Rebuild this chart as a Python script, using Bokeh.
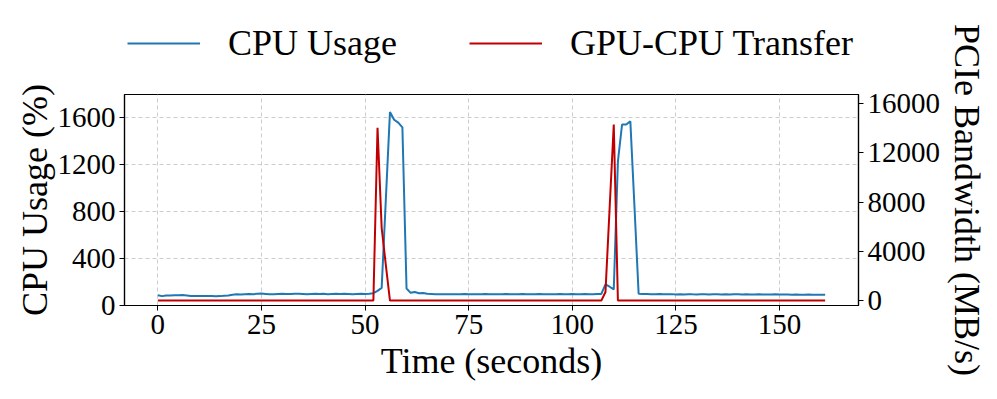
from bokeh.plotting import figure
from bokeh.layouts import column
from bokeh.models import Range1d, LinearAxis, FixedTicker, Legend, LegendItem, ColumnDataSource
from bokeh.embed import file_html
from bokeh.resources import INLINE

# ---- data ----
time_s = list(range(0, 162))
cpu_usage = [
    88, 80, 86, 86, 88, 87, 90, 86, 82, 80,
    80, 81, 82, 80, 78, 80, 84, 86, 92, 95,
    93, 96, 98, 97, 100, 102, 99, 95, 97, 99,
    100, 98, 99, 101, 100, 98, 96, 99, 101, 98,
    100, 97, 99, 101, 98, 100, 99, 97, 99, 100,
    99, 101, 105, 125, 150, 900, 1650, 1585, 1560, 1520,
    145, 108, 115, 105, 107, 100, 98, 96, 97, 95,
    96, 97, 95, 96, 98, 96, 95, 97, 96, 98,
    97, 95, 96, 97, 98, 96, 95, 97, 98, 96,
    97, 96, 98, 97, 95, 96, 97, 98, 97, 96,
    98, 97, 96, 98, 97, 96, 98, 99, 180, 160,
    137, 1230, 1544, 1544, 1572, 840, 100, 98, 99, 97,
    96, 98, 97, 95, 97, 93, 96, 94, 97, 95,
    94, 96, 95, 94, 96, 95, 93, 95, 94, 96,
    95, 94, 95, 93, 94, 95, 94, 93, 94, 95,
    93, 94, 93, 92, 93, 92, 92, 93, 92, 91,
    92, 91,
]
pcie_bw = [0.0] * 162
pcie_bw[53] = 14050
pcie_bw[54] = 5900
pcie_bw[55] = 2900
pcie_bw[108] = 700
pcie_bw[109] = 7500
pcie_bw[110] = 14300

series_labels = ["CPU Usage", "GPU-CPU Transfer"]
x_ticks = [0, 25, 50, 75, 100, 125, 150]
cpu_ticks = [0, 400, 800, 1200, 1600]
bw_ticks = [0, 4000, 8000, 12000, 16000]

FONT = "Liberation Serif"
BLUE = "#1f77b4"
RED = "#c00000"

src = ColumnDataSource(dict(t=time_s, cpu=cpu_usage, bw=pcie_bw))

# ---- main plot (full window) ----
p = figure(width=997, height=399, output_backend="svg", toolbar_location=None,
           x_range=Range1d(-8.05, 169.05), y_range=Range1d(0, 1800),
           min_border_left=124, min_border_right=139, min_border_top=94,
           min_border_bottom=94)
p.extra_y_ranges = {"bw": Range1d(-400, 16750)}

p.outline_line_color = "black"
p.outline_line_width = 1.2
p.background_fill_color = "white"
p.border_fill_alpha = 0

p.line("t", "cpu", source=src, line_color=BLUE, line_width=2)
p.line("t", "bw", source=src, line_color=RED, line_width=2, y_range_name="bw")

right_axis = LinearAxis(y_range_name="bw")
p.add_layout(right_axis, "right")

p.xaxis.ticker = FixedTicker(ticks=x_ticks)
p.yaxis[0].ticker = FixedTicker(ticks=cpu_ticks)
right_axis.ticker = FixedTicker(ticks=bw_ticks)

p.xaxis.axis_label = "Time (seconds)"
p.yaxis[0].axis_label = "CPU Usage (%)"
right_axis.axis_label = "PCIe Bandwidth (MB/s)"

for ax in [p.xaxis[0], p.yaxis[0], right_axis]:
    ax.axis_line_color = "black"
    ax.axis_line_width = 1.2
    ax.major_tick_line_color = "black"
    ax.major_tick_in = 0
    ax.major_tick_out = 5
    ax.minor_tick_line_color = None
    ax.major_label_text_font = FONT
    ax.major_label_text_font_size = "29px"
    ax.major_label_text_color = "black"
    ax.axis_label_text_font = FONT
    ax.axis_label_text_font_size = "36px"
    ax.axis_label_text_font_style = "normal"
    ax.axis_label_text_color = "black"
    ax.major_label_standoff = 4
    ax.axis_label_standoff = 4
p.yaxis[0].axis_label_standoff = 0

p.yaxis[0].major_label_orientation = "horizontal"
right_axis.major_label_orientation = "horizontal"

p.xgrid.grid_line_color = "#cccccc"
p.xgrid.grid_line_dash = "4 3"
p.ygrid.grid_line_color = "#cccccc"
p.ygrid.grid_line_dash = "4 3"
p.ygrid.ticker = FixedTicker(ticks=cpu_ticks)
p.xgrid.ticker = FixedTicker(ticks=x_ticks)

# ---- legend strip, laid under the top border of the main plot ----
lg = figure(width=997, height=94, output_backend="svg", toolbar_location=None,
            x_range=Range1d(0, 1), y_range=Range1d(100000, 100001),
            min_border_left=124, min_border_right=139, min_border_top=0,
            min_border_bottom=0, margin=(0, 0, -94, 0))
lg.axis.visible = False
lg.grid.visible = False
lg.outline_line_color = None
lg.border_fill_alpha = 0
lg.background_fill_alpha = 0
# series repeated far outside the strip's visible range: only their legend glyphs show
r1 = lg.line("t", "cpu", source=src, line_color=BLUE, line_width=2)
r2 = lg.line("t", "bw", source=src, line_color=RED, line_width=2)

legend = Legend(items=[LegendItem(label=series_labels[0], renderers=[r1]),
                       LegendItem(label=series_labels[1], renderers=[r2])],
                orientation="horizontal", location=(3, 30))
legend.label_text_font = FONT
legend.label_text_font_size = "36px"
legend.label_text_color = "black"
legend.glyph_width = 73
legend.glyph_height = 30
legend.label_height = 30
legend.label_standoff = 28
legend.spacing = 72
legend.padding = 0
legend.margin = 0
legend.border_line_color = None
legend.background_fill_alpha = 0
lg.add_layout(legend, "center")

layout = column(lg, p, spacing=0)
open("out.html", "w").write(file_html(layout, INLINE))
